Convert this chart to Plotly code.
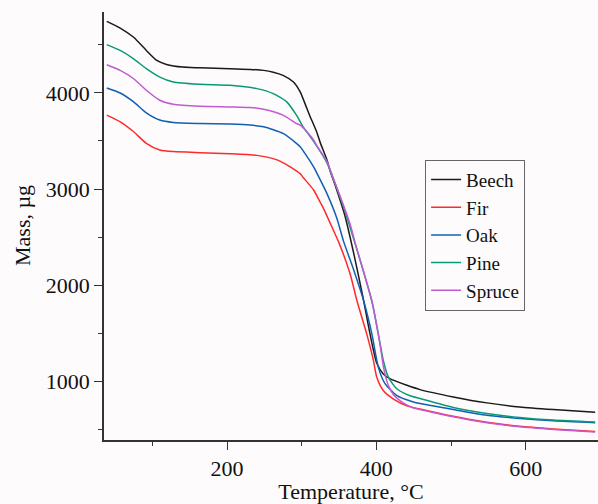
import plotly.graph_objects as go

# Temperature (°C) and mass (µg)
beech_t = [39, 57, 75, 92, 106, 119, 141, 164, 204, 231, 249, 262, 275, 289, 298, 307, 311, 320, 325, 334, 338, 347, 358, 370, 383, 391.5, 400.5, 409, 418, 441, 458.5, 503, 548, 592, 637, 693]
beech_m = [4744, 4674, 4578, 4441, 4337, 4296, 4268, 4261, 4250, 4244, 4234, 4215, 4182, 4113, 4010, 3837, 3760, 3596, 3480, 3300, 3190, 2990, 2720, 2320, 1838, 1493, 1190, 1080, 1028, 959, 914, 838, 776, 734, 707, 679]

fir_t = [39, 57, 75, 92, 110, 128, 164, 204, 240, 267, 284, 298, 302, 316, 325, 329, 342, 350, 365, 374, 387, 396, 400.5, 409, 423, 441, 458.5, 503, 548, 592, 637, 693]
fir_m = [3768, 3699, 3596, 3475, 3406, 3389, 3378, 3368, 3350, 3303, 3234, 3160, 3120, 2990, 2860, 2802, 2580, 2440, 2114, 1838, 1496, 1220, 1044, 907, 815, 745, 712, 636, 574, 532, 505, 478]

oak_t = [39, 57, 75, 92, 110, 128, 164, 204, 231, 249, 275, 293, 298, 307, 316, 320, 334, 347, 356, 370, 383, 394, 402.6, 411.6, 427, 449.5, 458.5, 503, 548, 592, 637, 693]
oak_m = [4051, 3999, 3906, 3792, 3717, 3692, 3681, 3675, 3665, 3647, 3578, 3475, 3440, 3340, 3230, 3170, 2950, 2699, 2458, 2150, 1838, 1493, 1148, 976, 855, 786, 769, 707, 648, 614, 589, 569]

pine_t = [39, 57, 75, 92, 110, 128, 164, 204, 240, 262, 280, 293, 302, 316, 334, 354, 371, 394, 402.6, 409.3, 416, 427, 445, 458.5, 503, 548, 592, 637, 693]
pine_m = [4502, 4441, 4354, 4251, 4164, 4113, 4089, 4078, 4044, 3992, 3906, 3768, 3647, 3495, 3270, 2860, 2445, 1830, 1493, 1217, 1044, 925, 850, 821, 728, 666, 625, 597, 576]

spruce_t = [39, 57, 75, 92, 110, 128, 164, 204, 231, 249, 275, 293, 298, 307, 316, 320, 334, 342, 354, 365, 371, 394, 400, 405, 410, 416, 423, 437, 449, 458.5, 503, 548, 592, 637, 693]
spruce_m = [4292, 4234, 4147, 4027, 3923, 3882, 3861, 3854, 3848, 3830, 3768, 3681, 3665, 3596, 3510, 3455, 3285, 3113, 2872, 2631, 2458, 1838, 1600, 1380, 1130, 960, 860, 770, 725, 707, 631, 569, 527, 500, 473]

series = [
    ("Beech", beech_t, beech_m, "#1a1a1a"),
    ("Fir", fir_t, fir_m, "#ff2a2a"),
    ("Oak", oak_t, oak_m, "#1160b4"),
    ("Pine", pine_t, pine_m, "#079a78"),
    ("Spruce", spruce_t, spruce_m, "#c25ad2"),
]

FONT = "Liberation Serif, Times New Roman, serif"

fig = go.Figure()
for name, t, m, c in series:
    fig.add_trace(go.Scatter(x=t, y=m, mode="lines", name=name,
                             line=dict(color=c, width=1.5, shape="spline", smoothing=0.6)))

axis_common = dict(
    showline=True, linecolor="#333333", linewidth=1.6, mirror=False,
    showgrid=False, zeroline=False,
    ticks="outside", ticklen=8, tickwidth=1.3, tickcolor="#333333",
    tickfont=dict(family=FONT, size=22, color="#111111"),
)

fig.update_layout(
    width=598, height=504,
    margin=dict(l=104, r=0, t=12, b=64),
    paper_bgcolor="#fdfbfb", plot_bgcolor="#fdfbfb",
    font=dict(family=FONT, color="#111111"),
    xaxis=dict(range=[35.3, 696.8], tick0=0, dtick=200,
               minor=dict(dtick=100, ticklen=4, ticks="outside", tickcolor="#333333", tickwidth=1.2),
               title=dict(text="Temperature, °C", font=dict(family=FONT, size=22), standoff=12),
               automargin=False, **axis_common),
    yaxis=dict(range=[390, 4841], tick0=0, dtick=1000,
               minor=dict(dtick=500, ticklen=4, ticks="outside", tickcolor="#333333", tickwidth=1.2),
               automargin=False, **axis_common),
    annotations=[dict(text="Mass, µg", textangle=-90, xref="paper", yref="paper",
                      x=(22 - 104) / 494, y=0.5, xanchor="center", yanchor="middle",
                      showarrow=False, font=dict(family=FONT, size=22, color="#111111"))],
    legend=dict(x=0.65, y=0.655, xanchor="left", yanchor="top",
                bgcolor="rgba(0,0,0,0)", bordercolor="#666666", borderwidth=1,
                font=dict(family=FONT, size=19, color="#111111"),
                tracegroupgap=0, itemwidth=30),
    showlegend=True,
)

fig.write_html("out.html", config={"displayModeBar": False},
               post_script="document.body.style.margin='0';document.body.style.overflow='hidden';")
